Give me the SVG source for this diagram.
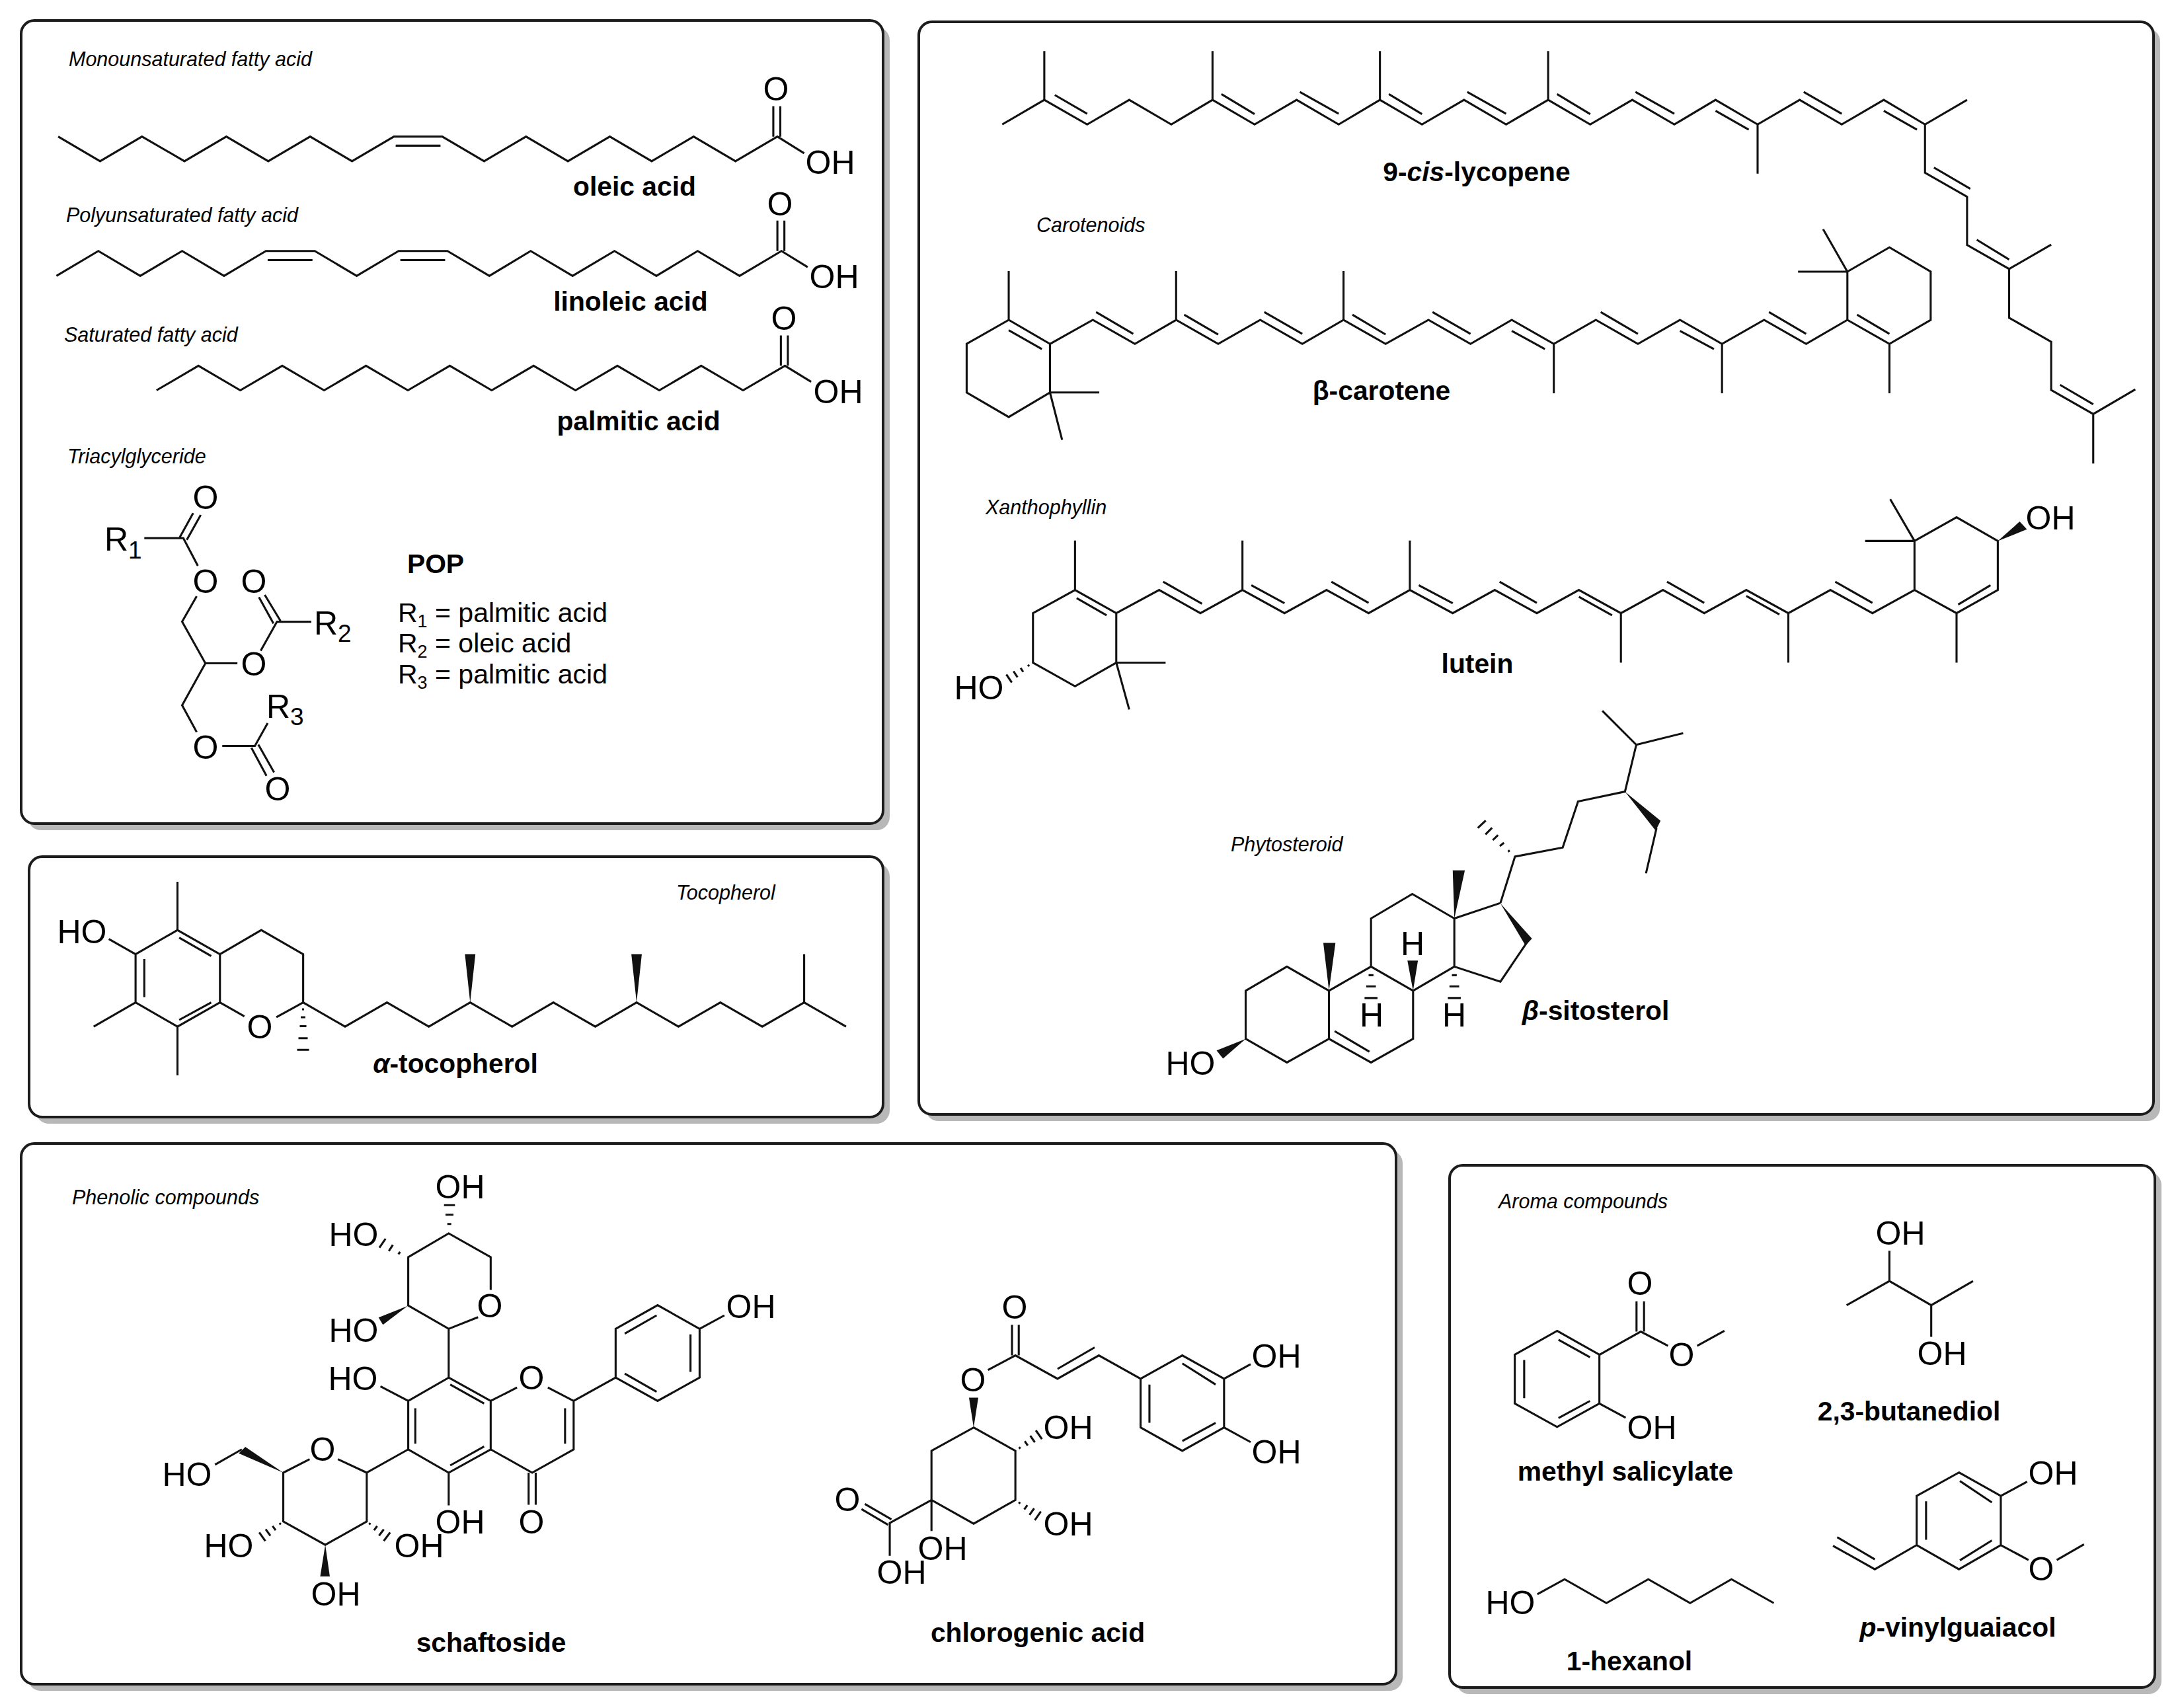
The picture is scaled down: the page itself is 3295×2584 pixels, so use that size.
<svg xmlns="http://www.w3.org/2000/svg" width="3295" height="2584" viewBox="0 0 3295 2584">
<style>
text{font-family:"Liberation Sans",Arial,sans-serif;fill:#000}
.b{fill:none;stroke:#111;stroke-width:3.1;vector-effect:non-scaling-stroke;stroke-linejoin:miter;stroke-linecap:butt}
.h{fill:none;stroke:#111;stroke-width:3.1}
.w{fill:#111;stroke:none}
.panel{fill:#fff;stroke:#1c1c1c;stroke-width:4}
.shadow{fill:#b8b8b8;stroke:none}
.cat{font-size:30.5px;font-style:italic}
.name{font-size:40.8px;font-weight:bold;text-anchor:middle}
.a{font-size:50px;text-anchor:middle}
.r{font-size:50px}
.eq{font-size:41px}
.i{font-style:italic}
</style>
<rect width="3295" height="2584" fill="#fff"/>
<g id="panels">
<rect class="shadow" x="42" y="41" width="1304" height="1215" rx="20"/><rect class="panel" x="32" y="31" width="1304" height="1215" rx="20"/>
<rect class="shadow" x="54" y="1306" width="1292" height="394" rx="20"/><rect class="panel" x="44" y="1296" width="1292" height="394" rx="20"/>
<rect class="shadow" x="1400" y="43" width="1868" height="1653" rx="20"/><rect class="panel" x="1390" y="33" width="1868" height="1653" rx="20"/>
<rect class="shadow" x="42" y="1740" width="2080" height="818" rx="20"/><rect class="panel" x="32" y="1730" width="2080" height="818" rx="20"/>
<rect class="shadow" x="2203" y="1773" width="1067" height="790" rx="20"/><rect class="panel" x="2193" y="1763" width="1067" height="790" rx="20"/>
</g>

<g id="oleic-acid">
<text class="cat" x="104" y="100">Monounsaturated fatty acid</text>
<g transform="scale(.8803,.4592)"><path class="b" d="M100 450L172 531L244 450L317 531L389 450L461 531L533 450L605 531L677 450L760 450L832 531L904 450L976 531L1048 450L1120 531L1192 450L1264 531L1336 450L1382 505M680 480L757 480M1329 450L1329 350M1341 450L1341 350"/></g>
<text class="a" x="1174" y="152">O</text><text class="a" x="1256" y="263">OH</text>
<text class="name" x="960" y="296">oleic acid</text>
</g>
<g id="linoleic-acid">
<text class="cat" x="100" y="336">Polyunsaturated fatty acid</text>
<g transform="scale(.8803,.4592)"><path class="b" d="M97 909L169 827L241 909L313 827L385 909L457 827L541 827L613 909L685 827L769 827L841 909L912 827L984 909L1056 827L1128 909L1199 827L1271 909L1343 827L1388 880M460 857L537 857M688 857L765 857M1336 827L1336 727M1348 827L1348 727"/></g>
<text class="a" x="1180" y="326">O</text><text class="a" x="1262" y="436">OH</text>
<text class="name" x="954" y="470">linoleic acid</text>
</g>
<g id="palmitic-acid">
<text class="cat" x="97" y="517">Saturated fatty acid</text>
<g transform="scale(.8803,.4592)"><path class="b" d="M269 1286L341 1205L413 1286L485 1205L557 1286L629 1205L701 1286L773 1205L845 1286L917 1205L989 1286L1061 1205L1133 1286L1205 1205L1277 1286L1349 1205L1394 1258M1342 1205L1342 1105M1354 1205L1354 1105"/></g>
<text class="a" x="1186" y="499">O</text><text class="a" x="1268" y="610">OH</text>
<text class="name" x="966" y="651">palmitic acid</text>
</g>
<g id="triacylglyceride">
<text class="cat" x="102" y="701">Triacylglyceride</text>
<g transform="translate(0,660) scale(.8803,.6761)"><path class="b" d="M248 228L315 228L340 290M309 226L332 172M321 232L345 176M338 358L313 415L353 508L408 508M448 480L476 415L535 415M482 413L455 355M470 419L445 360M353 508L313 602L338 662M382 693L438 693L460 642M432 697L458 760M444 690L471 752"/></g>
<text class="r" x="158" y="833">R<tspan font-size="37" dy="12">1</tspan></text>
<text class="a" x="311" y="770">O</text><text class="a" x="311" y="897">O</text><text class="a" x="384" y="897">O</text>
<text class="r" x="475" y="960">R<tspan font-size="37" dy="11">2</tspan></text>
<text class="a" x="384" y="1022">O</text>
<text class="r" x="403" y="1086">R<tspan font-size="37" dy="11">3</tspan></text>
<text class="a" x="311" y="1148">O</text><text class="a" x="420" y="1211">O</text>
<text class="name" x="659" y="867">POP</text>
<text class="eq" x="602" y="941">R<tspan font-size="27" dy="8">1</tspan><tspan dy="-8"> = palmitic acid</tspan></text>
<text class="eq" x="602" y="987">R<tspan font-size="27" dy="8">2</tspan><tspan dy="-8"> = oleic acid</tspan></text>
<text class="eq" x="602" y="1034">R<tspan font-size="27" dy="8">3</tspan><tspan dy="-8"> = palmitic acid</tspan></text>
</g>
<g id="alpha-tocopherol">
<text class="cat" x="1023" y="1361">Tocopherol</text>
<g transform="translate(0,660) scale(.8803,.6761)">
<path class="b" d="M305 1105L378 1159L378 1267L305 1321L233 1267L233 1159ZM305 1105L305 997M233 1267L161 1321M305 1321L305 1430M233 1159L187 1125M308 1122L363 1163M248 1170L248 1255M308 1306L363 1267M378 1159L449 1105L521 1159L521 1267L475 1300M378 1267L420 1298M521 1267L593 1321L665 1267L737 1321L808 1267L880 1321L951 1267L1023 1321L1094 1267L1166 1321L1238 1267L1310 1321L1382 1267L1454 1321M1382 1267L1382 1159"/>
<polygon class="w" points="808,1267 799,1159 817,1159"/><polygon class="w" points="1094,1267 1085,1159 1103,1159"/></g>
<path class="h" d="M457 1527L460 1527M455 1539L462 1539M453.500 1552.500L463.500 1552.500M451.500 1570.700L465.500 1570.700M449.500 1588.300L467.500 1588.300"/>
<text class="a" x="124" y="1427">HO</text><text class="a" x="393" y="1571">O</text>
<text class="name" x="689" y="1623"><tspan class="i">α</tspan>-tocopherol</text>
</g>

<g id="lycopene">
<g transform="translate(1378,0) scale(1.2235,.4592)"><path class="b" d="M113 410L165 329L218 410L270 329L322 410L373 329L425 410L477 329L529 410L580 329L632 410L684 329L736 410L788 329L840 410L892 329L944 410L995 329L1047 410L1099 329L1151 410L1203 329L1254 410L1306 329M165 329L165 168M373 329L373 168M580 329L580 168M788 329L788 168M1047 410L1047 572M178 313L218 375M384 310L425 376M481 303L529 375M591 310L632 376M688 303L736 375M799 310L840 376M896 303L944 375M995 365L1036 427M1104 303L1151 375M1203 365L1244 427M1254 410L1254 569L1306 648L1306 807L1358 886L1410 806M1358 886L1358 1047L1410 1126L1410 1285L1462 1364L1514 1283M1462 1364L1462 1527M1265 552L1310 622M1318 790L1358 855M1421 1268L1462 1332"/></g>
<text class="name" x="2234" y="274">9-<tspan class="i">cis</tspan>-lycopene</text>
</g>
<g id="beta-carotene">
<text class="cat" x="1568" y="351">Carotenoids</text>
<g transform="translate(1378,0) scale(1.2235,.4592)"><path class="b" d="M121 1054L69 1133L69 1293L121 1374L172 1293L172 1133ZM121 1088L162 1150M121 1054L121 893M172 1293L233 1293M172 1293L187 1449M172 1133L225 1054L277 1133L328 1054L380 1133L432 1054L484 1133L535 1054L587 1133L640 1054L692 1133L743 1054L795 1133L847 1054L899 1133L951 1054L1003 1133L1055 1054L1107 1133L1158 1054M328 1054L328 893M535 1054L535 893M795 1133L795 1296M1003 1133L1003 1296M229 1028L275 1100M338 1037L380 1102M437 1028L484 1100M546 1037L587 1102M645 1028L692 1100M743 1090L784 1150M853 1028L899 1100M951 1090L993 1150M1061 1028L1107 1100M1158 1054L1158 895L1210 815L1261 895L1261 1054L1210 1133ZM1170 1037L1210 1100M1210 1133L1210 1296M1158 895L1097 895M1158 895L1128 755"/></g>
<text class="name" x="2090" y="605">β-carotene</text>
</g>
<g id="lutein">
<text class="cat" x="1491" y="778">Xanthophyllin</text>
<g transform="translate(1378,700) scale(1.2235,.6505)">
<path class="b" d="M203 296L151 350L151 465L203 520L254 465L254 350ZM203 181L203 296M205 315L242 355M254 465L315 465M254 465L270 574M254 350L307 296L358 350L410 296L462 350L514 296L566 350L617 296L670 350L722 296L774 350L826 296L878 350L930 296L981 350L1033 296L1085 350L1137 296L1189 350L1241 296M410 296L410 181M617 296L617 181M878 350L878 465M1085 350L1085 465M312 277L360 328M421 285L462 327M520 277L566 326M628 285L670 327M728 277L774 326M826 312L867 355M935 277L981 326M1033 310L1074 353M1143 277L1189 326M1241 296L1241 182L1293 127L1344 182L1344 296L1293 350ZM1295 330L1335 285M1293 350L1293 465M1241 182L1180 182M1241 182L1211 85"/>
<polygon class="w" points="1344,182 1371,137 1380,155"/></g>
<path class="h" d="M1555.300 1005.700L1556.900 1008.100M1544.100 1010.700L1547.900 1016.500M1533.300 1015.500L1539.300 1024.700M1522.500 1020.300L1530.700 1032.700"/>
<text class="name" x="2235" y="1018">lutein</text>
<text class="a" x="1481" y="1058">HO</text><text class="a" x="3102" y="801">OH</text>
</g>
<g id="beta-sitosterol">
<text class="cat" x="1862" y="1288">Phytosteroid</text>
<g transform="translate(1378,700) scale(1.2235,.6505)">
<path class="b" d="M414 1228L465 1172L517 1228L517 1340L465 1395L414 1340ZM517 1228L569 1172L621 1228L621 1340L569 1395L517 1340M524 1322L567 1370M569 1172L569 1060L620 1003L672 1060L672 1172L621 1228M672 1060L729 1024M762 1115L729 1207L672 1172M729 1024L747 916L806 895L825 788L883 765L897 656L955 629M897 656L855 577M922 850L909 955M566 1192L572 1192M563 1218L575 1218M561 1245L577 1245M669 1192L675 1192M666 1218L678 1218M664 1245L680 1245"/>
<polygon class="w" points="517,1228 510,1117 525,1117"/><polygon class="w" points="672,1060 670,948 685,948"/><polygon class="w" points="729,1025 768,1107 760,1123"/><polygon class="w" points="621,1228 614,1158 627,1158"/><polygon class="w" points="883,765 927,833 921,856"/><polygon class="w" points="414,1340 378,1367 386,1386"/></g>
<path class="h" d="M2281.500 1288.500L2284 1286.500M2269 1280L2275.300 1275M2258.300 1271L2266.300 1263.300M2247.300 1262.300L2257.300 1252.300M2235.700 1252.700L2247.700 1241.300"/>
<text class="a" x="2137" y="1445">H</text><text class="a" x="2075" y="1553">H</text><text class="a" x="2200" y="1553">H</text>
<text class="a" x="1801" y="1626">HO</text>
<text class="name" x="2414" y="1543"><tspan class="i">β</tspan>-sitosterol</text>
</g>

<g id="schaftoside">
<text class="cat" x="109" y="1822">Phenolic compounds</text>
<g transform="translate(0,1720) scale(.7653,.551)">
<path class="b" d="M970 420L970 330L887 265L807 330L807 463L887 527L945 495M887 527L887 661M887 661L970 725L970 858L887 922L807 858L807 725ZM890 680L957 732M821 745L821 842M890 902L957 850M807 725L752 685M970 725L1022 688M1083 688L1134 725L1134 858L1052 922L970 858M1117 745L1117 842M1045 922L1045 1010M1059 922L1059 1010M887 922L887 1012M1134 725L1217 661M1217 661L1217 527L1300 462L1383 527L1383 661L1300 725ZM1235 650L1298 700M1235 540L1298 490M1365 542L1365 645M1383 527L1432 490M807 858L725 922L725 1056L643 1120L560 1056L560 922L612 885M668 885L725 922M478 858L425 900"/>
<polygon class="w" points="560,922 472,869 485,851"/><polygon class="w" points="643,1120 633,1207 652,1207"/></g>
<polygon class="w" points="616.700,1975.700 572.700,1993.300 579.300,2004.300"/>
<path class="h" d="M676.700 1851.700L682.700 1851.700M674 1837.700L686 1837.700M671.700 1823.300L688.300 1823.300M602.700 1897.500L605.300 1894M588.300 1892.700L594.300 1883.300M574 1887.700L583.300 1874M422.900 2304.100L424.700 2306.500M412.400 2308.700L417 2315.100M402 2313.600L409 2323.400M392.200 2318.300L401.400 2331.300M558.500 2306.500L560.300 2304.100M565.800 2315.100L570.600 2308.700M573.400 2323.300L580.600 2313.700M580.600 2331.200L590.200 2318.400"/>
<text class="a" x="696" y="1813">OH</text><text class="a" x="535" y="1885">HO</text><text class="a" x="535" y="2030">HO</text><text class="a" x="534" y="2103">HO</text>
<text class="a" x="741" y="1993">O</text><text class="a" x="804" y="2102">O</text><text class="a" x="1136" y="1994">OH</text>
<text class="a" x="488" y="2210">O</text><text class="a" x="283" y="2248">HO</text><text class="a" x="346" y="2356">HO</text><text class="a" x="634" y="2356">OH</text>
<text class="a" x="696" y="2320">OH</text><text class="a" x="804" y="2320">O</text><text class="a" x="508" y="2429">OH</text>
<text class="name" x="743" y="2499">schaftoside</text>
</g>
<g id="chlorogenic-acid">
<g transform="translate(1200,1720) scale(.6378,.551)">
<path class="b" d="M428 798L527 862L527 997L428 1062L328 997L328 862ZM462 640L527 600L627 664L725 600L824 664M519 600L519 516M535 600L535 516M627 637L715 578M824 664L923 600L1022 664L1022 798L923 862L824 798ZM845 680L845 785M923 622L1002 680M923 835L1002 785M1022 664L1085 624M1022 798L1085 838M328 997L229 1060L229 1150M170 1008L233 1050M162 1022L225 1065M328 997L328 1082"/>
<polygon class="w" points="428,798 417,716 439,716"/></g>
<path class="h" d="M1541.700 2189.300L1543.500 2191.700M1550.300 2180.400L1554.900 2187M1558.700 2172.200L1565.500 2182M1567.100 2164L1576.300 2177.200M1541.400 2274.900L1543.200 2272.500M1549.600 2283.700L1554.200 2277.100M1557.500 2291.800L1564.500 2282M1565.500 2299.900L1574.700 2286.700"/>
<text class="a" x="1472" y="2105">O</text><text class="a" x="1535" y="1995">O</text>
<text class="a" x="1931" y="2069">OH</text><text class="a" x="1931" y="2214">OH</text><text class="a" x="1616" y="2177">OH</text><text class="a" x="1616" y="2323">OH</text>
<text class="a" x="1282" y="2286">O</text><text class="a" x="1364" y="2396">OH</text><text class="a" x="1426" y="2360">OH</text>
<text class="name" x="1570" y="2484">chlorogenic acid</text>
</g>

<g id="methyl-salicylate">
<text class="cat" x="2267" y="1828">Aroma compounds</text>
<g transform="translate(2180,1740) scale(.7111,.5383)"><path class="b" d="M247 508L337 575L337 712L247 778L157 712L157 575ZM250 533L317 582M177 590L177 697M250 753L317 705M337 575L425 510L483 550M416 510L416 425M432 510L432 425M545 550L603 508M337 712L393 752"/></g>
<text class="a" x="2481" y="1959">O</text><text class="a" x="2544" y="2067">O</text><text class="a" x="2499" y="2177">OH</text>
<text class="name" x="2459" y="2240">methyl salicylate</text>
</g>
<g id="butanediol">
<g transform="translate(2180,1740) scale(.7111,.5383)"><path class="b" d="M863 436L954 368L1043 436L1132 368M954 368L954 283M1043 436L1043 525"/></g>
<text class="a" x="2875" y="1883">OH</text><text class="a" x="2938" y="2065">OH</text>
<text class="name" x="2888" y="2149">2,3-butanediol</text>
</g>
<g id="hexanol">
<g transform="translate(2180,1740) scale(.7111,.5383)"><path class="b" d="M205 1248L263 1206L352 1273L441 1206L530 1273L618 1206L708 1273"/></g>
<text class="a" x="2285" y="2442">HO</text>
<text class="name" x="2465" y="2527">1-hexanol</text>
</g>
<g id="vinylguaiacol">
<g transform="translate(2180,1740) scale(.7111,.5383)"><path class="b" d="M1102 906L1191 972L1191 1110L1102 1178L1012 1110L1012 972ZM1104 930L1172 990M1032 987L1032 1095M1104 1153L1172 1097M1191 972L1247 932M1191 1110L1250 1152M1310 1152L1368 1108M1012 1110L923 1178L834 1112M923 1150L843 1088"/></g>
<text class="a" x="3106" y="2246">OH</text><text class="a" x="3088" y="2391">O</text>
<text class="name" x="2962" y="2476"><tspan class="i">p</tspan>-vinylguaiacol</text>
</g>
</svg>
